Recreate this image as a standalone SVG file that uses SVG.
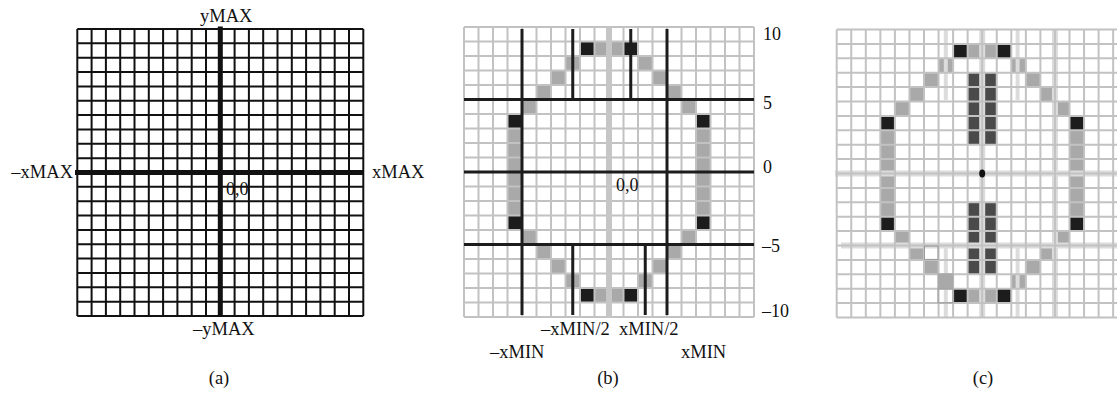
<svg xmlns="http://www.w3.org/2000/svg" width="1117" height="394" viewBox="0 0 1117 394">
<style>
text{font-family:"Liberation Serif","Times New Roman",serif;font-size:18.5px;fill:#111}
.num{font-size:18px}
.gridA{stroke:#111;stroke-width:2;fill:none}
.axA{stroke:#111;stroke-width:5;fill:none}
.grid{stroke:#c2c2c2;stroke-width:2;fill:none}
.blk{fill:#1c1c1c}
.gry{fill:#a9a9a9}
.drk{fill:#4a4a4a}
.bl{stroke:#1c1c1c;stroke-width:3;fill:none}
.band{stroke:#c6c6c6;stroke-width:6;fill:none}
.lite{stroke:#dcdcdc;stroke-width:6;fill:none}
.lite2{stroke:#dcdcdc;stroke-width:4;fill:none}
</style>
<rect width="1117" height="394" fill="#fff"/>

<g id="panel-a">
<path class="gridA" d="M77.3 29V316M91.6 29V316M105.9 29V316M120.2 29V316M134.5 29V316M148.8 29V316M163.1 29V316M177.4 29V316M191.7 29V316M206 29V316M234.6 29V316M248.9 29V316M263.2 29V316M277.5 29V316M291.8 29V316M306.1 29V316M320.4 29V316M334.7 29V316M349 29V316M363.3 29V316
M77.3 29H363.3M77.3 43.35H363.3M77.3 57.7H363.3M77.3 72.05H363.3M77.3 86.4H363.3M77.3 100.75H363.3M77.3 115.1H363.3M77.3 129.45H363.3M77.3 143.8H363.3M77.3 158.15H363.3M77.3 186.85H363.3M77.3 201.2H363.3M77.3 215.55H363.3M77.3 229.9H363.3M77.3 244.25H363.3M77.3 258.6H363.3M77.3 272.95H363.3M77.3 287.3H363.3M77.3 301.65H363.3M77.3 316H363.3"/>
<path class="axA" d="M75 172.5H363.3M220.3 26.5V317"/>
<text x="200" y="22">yMAX</text>
<text x="193" y="335">–yMAX</text>
<text x="73" y="178" text-anchor="end">–xMAX</text>
<text x="372" y="178">xMAX</text>
<text class="num" x="226" y="195">0,0</text>
<text x="219" y="384" text-anchor="middle">(a)</text>
</g>

<g id="panel-b">
<g id="b-cells">
<rect class="blk" x="580" y="41.5" width="14.5" height="14.5"/>
<rect class="blk" x="623.5" y="41.5" width="14.5" height="14.5"/>
<rect class="gry" x="594.5" y="41.5" width="29" height="14.5"/>
<rect class="gry" x="565.5" y="56" width="14.5" height="14.5"/>
<rect class="gry" x="638" y="56" width="14.5" height="14.5"/>
<rect class="gry" x="551" y="70.5" width="14.5" height="14.5"/>
<rect class="gry" x="652.5" y="70.5" width="14.5" height="14.5"/>
<rect class="gry" x="536.5" y="85" width="14.5" height="14.5"/>
<rect class="gry" x="667" y="85" width="14.5" height="14.5"/>
<rect class="gry" x="522" y="99.5" width="14.5" height="14.5"/>
<rect class="gry" x="681.5" y="99.5" width="14.5" height="14.5"/>
<rect class="blk" x="507.5" y="114" width="14.5" height="14.5"/>
<rect class="blk" x="696" y="114" width="14.5" height="14.5"/>
<rect class="gry" x="507.5" y="128.5" width="14.5" height="87"/>
<rect class="gry" x="696" y="128.5" width="14.5" height="87"/>
<rect class="blk" x="507.5" y="215.5" width="14.5" height="14.5"/>
<rect class="blk" x="696" y="215.5" width="14.5" height="14.5"/>
<rect class="gry" x="522" y="230" width="14.5" height="14.5"/>
<rect class="gry" x="681.5" y="230" width="14.5" height="14.5"/>
<rect class="gry" x="536.5" y="244.5" width="14.5" height="14.5"/>
<rect class="gry" x="667" y="244.5" width="14.5" height="14.5"/>
<rect class="gry" x="551" y="259" width="14.5" height="14.5"/>
<rect class="gry" x="652.5" y="259" width="14.5" height="14.5"/>
<rect class="gry" x="565.5" y="273.5" width="14.5" height="14.5"/>
<rect class="gry" x="638" y="273.5" width="14.5" height="14.5"/>
<rect class="blk" x="580" y="288" width="14.5" height="14.5"/>
<rect class="blk" x="623.5" y="288" width="14.5" height="14.5"/>
<rect class="gry" x="594.5" y="288" width="29" height="14.5"/>
</g>
<path class="grid" d="M464 27V317M478.5 27V317M493 27V317M507.5 27V317M522 27V317M536.5 27V317M551 27V317M565.5 27V317M580 27V317M594.5 27V317M609 27V317M623.5 27V317M638 27V317M652.5 27V317M667 27V317M681.5 27V317M696 27V317M710.5 27V317M725 27V317M739.5 27V317M754 27V317
M464 27H754M464 41.5H754M464 56H754M464 70.5H754M464 85H754M464 99.5H754M464 114H754M464 128.5H754M464 143H754M464 157.5H754M464 172H754M464 186.5H754M464 201H754M464 215.5H754M464 230H754M464 244.5H754M464 259H754M464 273.5H754M464 288H754M464 302.5H754M464 317H754"/>
<path class="band" d="M609 27V318"/>
<g id="b-lines">
<path class="bl" d="M464 99.5H754M464 172H754M464 244.5H754"/>
<path class="bl" d="M522 29V315M667 29V315"/>
<path class="bl" d="M572.75 29V99.5M630.75 29V99.5M572.75 244.5V315M645.25 244.5V315"/>
</g>
<text class="num" x="763" y="40">10</text>
<text class="num" x="763" y="109">5</text>
<text class="num" x="763" y="173">0</text>
<text class="num" x="762" y="252">–5</text>
<text class="num" x="762" y="317">–10</text>
<text class="num" x="616" y="191">0,0</text>
<text x="541" y="335">–xMIN/2</text>
<text x="619" y="335">xMIN/2</text>
<text x="490" y="358">–xMIN</text>
<text x="681" y="358">xMIN</text>
<text x="608" y="384" text-anchor="middle">(b)</text>
</g>

<g id="panel-c">
<g id="c-cells">
<rect class="blk" x="953.1" y="43.9" width="14.55" height="14.4"/>
<rect class="blk" x="996.75" y="43.9" width="14.55" height="14.4"/>
<rect class="gry" x="967.65" y="43.9" width="29.1" height="14.4"/>
<rect class="gry" x="938.55" y="58.3" width="14.55" height="14.4"/>
<rect class="gry" x="1011.3" y="58.3" width="14.55" height="14.4"/>
<rect class="gry" x="924" y="72.7" width="14.55" height="14.4"/>
<rect class="gry" x="1025.85" y="72.7" width="14.55" height="14.4"/>
<rect class="gry" x="909.45" y="87.1" width="14.55" height="14.4"/>
<rect class="gry" x="1040.4" y="87.1" width="14.55" height="14.4"/>
<rect class="gry" x="894.9" y="101.5" width="14.55" height="14.4"/>
<rect class="gry" x="1054.95" y="101.5" width="14.55" height="14.4"/>
<rect class="blk" x="880.35" y="115.9" width="14.55" height="14.4"/>
<rect class="blk" x="1069.5" y="115.9" width="14.55" height="14.4"/>
<rect class="gry" x="880.35" y="130.3" width="14.55" height="86.4"/>
<rect class="gry" x="1069.5" y="130.3" width="14.55" height="86.4"/>
<rect class="blk" x="880.35" y="216.7" width="14.55" height="14.4"/>
<rect class="blk" x="1069.5" y="216.7" width="14.55" height="14.4"/>
<rect class="gry" x="894.9" y="231.1" width="14.55" height="14.4"/>
<rect class="gry" x="1054.95" y="231.1" width="14.55" height="14.4"/>
<rect class="gry" x="909.45" y="245.5" width="14.55" height="14.4"/>
<rect class="gry" x="1040.4" y="245.5" width="14.55" height="14.4"/>
<rect class="gry" x="924" y="259.9" width="14.55" height="14.4"/>
<rect class="gry" x="1025.85" y="259.9" width="14.55" height="14.4"/>
<rect class="gry" x="1011.3" y="274.3" width="14.55" height="14.4"/>
<rect class="blk" x="953.1" y="288.7" width="14.55" height="14.4"/>
<rect class="blk" x="996.75" y="288.7" width="14.55" height="14.4"/>
<rect class="gry" x="967.65" y="288.7" width="29.1" height="14.4"/>
<rect class="drk" x="967.65" y="72.7" width="29.1" height="72"/>
<rect class="drk" x="967.65" y="202.3" width="29.1" height="72"/>
</g>
<path class="lite" d="M982.2 29.5V317.5M1054.95 29.5V317.5M835 173.5H1117M841 245.5H1117"/>
<path class="lite2" d="M945.8 29.5V100M1017.6 29.5V100M945.8 247V317.5M1017.6 247V317.5"/>
<path class="grid" d="M836.7 29.5V317.5M851.25 29.5V317.5M865.8 29.5V317.5M880.35 29.5V317.5M894.9 29.5V317.5M909.45 29.5V317.5M924 29.5V317.5M938.55 29.5V317.5M953.1 29.5V317.5M967.65 29.5V317.5M982.2 29.5V317.5M996.75 29.5V317.5M1011.3 29.5V317.5M1025.85 29.5V317.5M1040.4 29.5V317.5M1054.95 29.5V317.5M1069.5 29.5V317.5M1084.05 29.5V317.5M1098.6 29.5V317.5M1113.15 29.5V317.5
M836.7 29.5H1127.7M836.7 43.9H1127.7M836.7 58.3H1127.7M836.7 72.7H1127.7M836.7 87.1H1127.7M836.7 101.5H1127.7M836.7 115.9H1127.7M836.7 130.3H1127.7M836.7 144.7H1127.7M836.7 159.1H1127.7M836.7 173.5H1127.7M836.7 187.9H1127.7M836.7 202.3H1127.7M836.7 216.7H1127.7M836.7 231.1H1127.7M836.7 245.5H1127.7M836.7 259.9H1127.7M836.7 274.3H1127.7M836.7 288.7H1127.7M836.7 303.1H1127.7M836.7 317.5H1127.7"/>
<rect class="gry" x="937.5" y="273.3" width="16" height="15.4"/>
<rect x="924.5" y="246" width="13.5" height="13.4" fill="none" stroke="#9a9a9a" stroke-width="1"/>
<rect x="938" y="289" width="15" height="13.8" fill="none" stroke="#9a9a9a" stroke-width="1"/>
<ellipse cx="982.2" cy="173.5" rx="3" ry="4" fill="#111"/>
<text x="983" y="384" text-anchor="middle">(c)</text>
</g>
</svg>
